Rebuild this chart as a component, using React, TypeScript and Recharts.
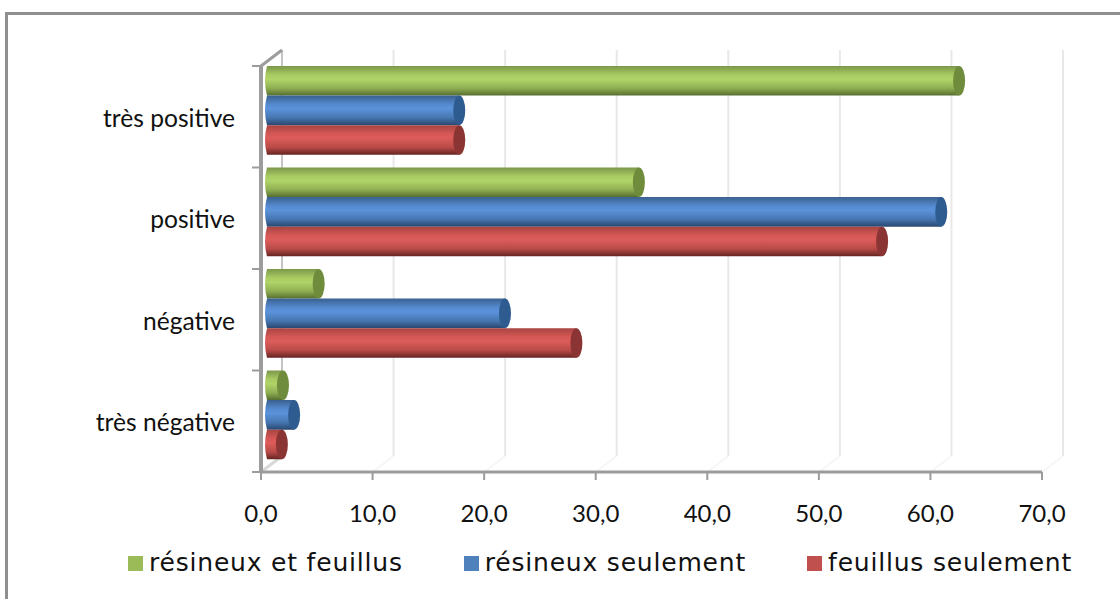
import React from 'react'
import { BarChart, Bar, XAxis, YAxis, CartesianGrid, Legend } from 'recharts'

const categories = ['très positive', 'positive', 'négative', 'très négative']
const resineuxEtFeuillus = [62.3, 33.6, 4.9, 1.7]
const resineuxSeulement = [17.5, 60.7, 21.6, 2.7]
const feuillusSeulement = [17.5, 55.4, 28.0, 1.6]
const xTicks = [0, 10, 20, 30, 40, 50, 60, 70]

const SERIES = [
    { key: 'mixte', name: 'résineux et feuillus', values: resineuxEtFeuillus, swatch: '#9bbb59', cap: '#6f8c3c', grad: ['#7c974a', '#a9cb62', '#b0d468', '#8fae52', '#566e2f'] },
    { key: 'resineux', name: 'résineux seulement', values: resineuxSeulement, swatch: '#4f81bd', cap: '#2f5c90', grad: ['#3a6190', '#558ad0', '#5b92da', '#4676b0', '#294770'] },
    { key: 'feuillus', name: 'feuillus seulement', values: feuillusSeulement, swatch: '#c0504d', cap: '#8a3533', grad: ['#a84441', '#d65856', '#dc5c5a', '#b84a47', '#642422'] },
]

const data = categories.map((name, i) => ({
    name,
    mixte: resineuxEtFeuillus[i],
    resineux: resineuxSeulement[i],
    feuillus: feuillusSeulement[i],
}))

const GRAY = '#9c9c9c'
const DEPTH_X = 21
const DEPTH_Y = 16

// fake 3D cylinder, the bar is nudged off the axis like the excel original
function Cylinder(props: any) {
    const { x, y, width, height, gradId, cap } = props
    const bx = x + 3
    const by = y - 6
    const rx = 6
    return (
        <g>
            <path
                d={`M${bx + 3},${by} H${bx + width} V${by + height} H${bx + 3} Q${bx - 1},${by + height / 2} ${bx + 3},${by} Z`}
                fill={`url(#${gradId})`}
            />
            <ellipse cx={bx + width} cy={by + height / 2} rx={rx} ry={height / 2} fill={cap} />
        </g>
    )
}

function CategoryTick(props: any) {
    const { x, y, payload, index } = props
    const band = 101.5
    return (
        <g>
            <line x1={252} x2={261} y1={y - band / 2} y2={y - band / 2} stroke={GRAY} strokeWidth={2} />
            {index === categories.length - 1 && (
                <line x1={252} x2={261} y1={y + band / 2} y2={y + band / 2} stroke={GRAY} strokeWidth={2} />
            )}
            <text x={235} y={y + 10} textAnchor="end" fontFamily="Lato" fontSize={24.6} fill="#111">
                {payload.value}
            </text>
        </g>
    )
}

function WallLine(props: any) {
    const { x1, y1, y2, index } = props
    const first = index === 0
    return (
        <g>
            <line x1={x1 + DEPTH_X} x2={x1 + DEPTH_X} y1={y1 - DEPTH_Y} y2={y2 - DEPTH_Y} stroke={first ? '#c4c4c4' : '#e8e8e8'} strokeWidth={2} />
            <line x1={x1} x2={x1 + DEPTH_X} y1={y2} y2={y2 - DEPTH_Y} stroke={first ? '#d8d8d8' : '#f6f6f6'} strokeWidth={first ? 3 : 2} />
            {first && <line x1={x1} x2={x1 + DEPTH_X} y1={y1} y2={y1 - DEPTH_Y} stroke={GRAY} strokeWidth={3} />}
        </g>
    )
}

function LegendRow() {
    return (
        <div style={{ display: 'flex', paddingLeft: 128, fontFamily: 'DejaVu Sans', fontSize: 25, letterSpacing: 0.8, color: '#111', lineHeight: '30px' }}>
            {SERIES.map((s) => (
                <div key={s.key} style={{ display: 'flex', alignItems: 'center', marginRight: 61, whiteSpace: 'nowrap' }}>
                    <span style={{ width: 15, height: 15, background: s.swatch, marginRight: 6 }} />
                    {s.name}
                </div>
            ))}
        </div>
    )
}

export default function App() {
    return (
        <div style={{ position: 'absolute', left: 0, top: 0, width: 1120, height: 599, overflow: 'hidden', background: '#fff' }}>
            <div style={{ position: 'absolute', left: 5, top: 12, width: 1115, height: 587, borderTop: '3px solid #8f8f8f', borderLeft: '3px solid #8f8f8f', boxSizing: 'border-box' }} />
            <BarChart
                width={1120}
                height={599}
                data={data}
                layout="vertical"
                barCategoryGap={6}
                barGap={0}
                margin={{ top: 66, right: 78, left: 0, bottom: 0 }}
                style={{ position: 'absolute', left: 0, top: 0 }}
            >
                <defs>
                    {SERIES.map((s) => (
                        <linearGradient key={s.key} id={`grad-${s.key}`} x1="0" y1="0" x2="0" y2="1">
                            <stop offset="0%" stopColor={s.grad[0]} />
                            <stop offset="30%" stopColor={s.grad[1]} />
                            <stop offset="45%" stopColor={s.grad[2]} />
                            <stop offset="75%" stopColor={s.grad[3]} />
                            <stop offset="100%" stopColor={s.grad[4]} />
                        </linearGradient>
                    ))}
                </defs>
                <CartesianGrid horizontal={false} vertical={(p: any) => <WallLine key={p.index} {...p} />} />
                <XAxis
                    type="number"
                    domain={[0, 70]}
                    ticks={xTicks}
                    height={77}
                    tickFormatter={(v: number) => v.toFixed(1).replace('.', ',')}
                    tick={{ fontFamily: 'Lato', fontSize: 24, fill: '#111' }}
                    tickMargin={25}
                    tickSize={8}
                    axisLine={{ stroke: GRAY, strokeWidth: 3 }}
                    tickLine={{ stroke: GRAY, strokeWidth: 2 }}
                />
                <YAxis
                    type="category"
                    dataKey="name"
                    width={261}
                    tick={<CategoryTick />}
                    tickLine={false}
                    axisLine={{ stroke: GRAY, strokeWidth: 4 }}
                />
                <Legend
                    verticalAlign="bottom"
                    height={50}
                    content={() => <LegendRow />}
                    wrapperStyle={{ left: 0, bottom: 1, width: 1120 }}
                />
                {SERIES.map((s) => (
                    <Bar
                        key={s.key}
                        dataKey={s.key}
                        name={s.name}
                        barSize={29.6}
                        isAnimationActive={false}
                        shape={<Cylinder gradId={`grad-${s.key}`} cap={s.cap} />}
                    />
                ))}
            </BarChart>
        </div>
    )
}
